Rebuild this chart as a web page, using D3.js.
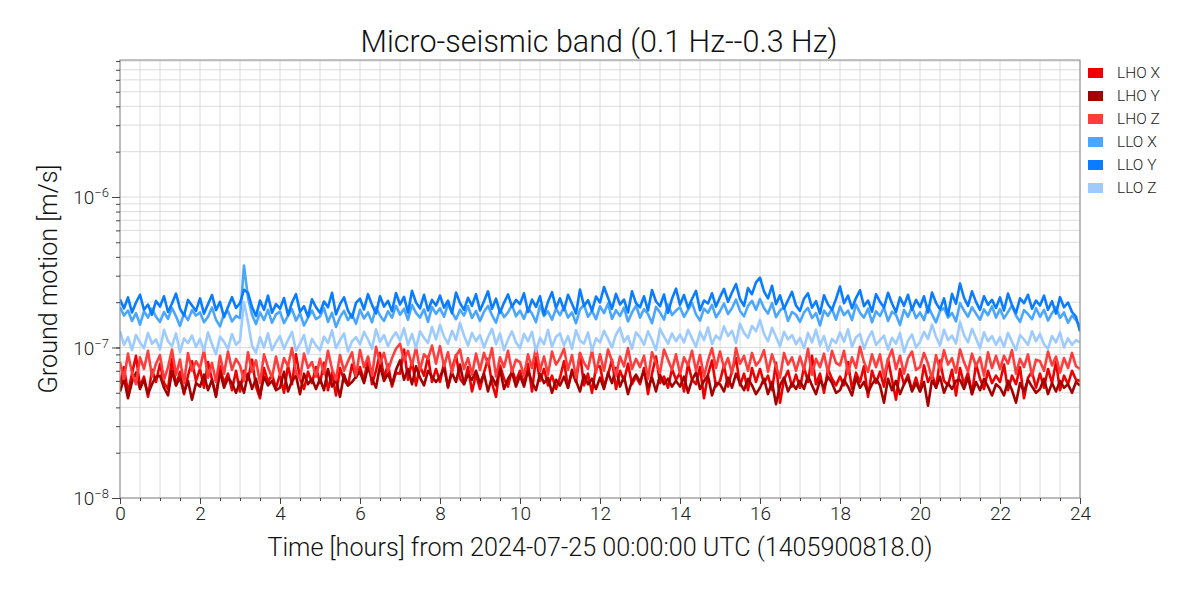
<!DOCTYPE html>
<html>
<head>
<meta charset="utf-8">
<script src="https://cdn.jsdelivr.net/npm/d3@7"></script>
<style>
  html, body { margin: 0; padding: 0; background: #fff; }
  svg { display: block; font-family: "Roboto Light", Roboto, "Open Sans", sans-serif; font-weight: 300; }
</style>
</head>
<body>
<svg id="chart" width="1200" height="600"></svg>
<script>
// ---- data (values in nm/s, i.e. units of 1e-9 m/s), sampled every 0.1 h ----
const seriesNames = ["LHO X", "LHO Y", "LHO Z", "LLO X", "LLO Y", "LLO Z"];
const seriesColors = ["#ee0000", "#a30000", "#ff3d3d", "#4ba6ff", "#0a7cff", "#9dcbff"];
const xTicks = [0, 2, 4, 6, 8, 10, 12, 14, 16, 18, 20, 22, 24];
const yTickExponents = [-8, -7, -6];
const sampleStepHours = 0.1;

const lhoX = [57,74,50,67,88,55,64,47,71,59, 78,58,53,84,56,69,49,65,81,60, 72,54,80,61,48,75,58,67,52,70,
  51,70,61,83,55,46,73,59,66,54, 66,50,76,57,90,62,53,69,58,74, 58,79,52,68,48,73,61,56,77,63,
  74,60,86,57,70,92,63,77,55,68, 67,97,61,81,56,75,65,87,59,72, 59,79,54,72,89,62,57,74,51,66,
  53,68,84,58,47,76,62,55,71,60, 70,57,78,51,86,60,72,56,65,53, 63,81,54,69,59,91,56,67,50,74,
  75,55,66,83,53,70,60,78,57,64, 57,73,49,67,87,58,64,54,72,61, 68,51,78,61,57,74,46,66,82,55,
  60,76,55,70,85,56,67,52,73,59, 72,58,65,52,79,43,61,70,55,66, 54,74,59,88,57,67,50,72,62,56,
  64,56,80,53,68,59,75,47,70,58, 69,55,84,61,45,72,57,66,52,63, 51,76,59,67,54,82,60,56,71,48,
  73,57,68,49,78,62,53,70,58,65, 59,77,52,65,57,74,46,63,69,54, 67,54,72,58,80,52,65,57,70,61, 60];
const lhoY = [51,62,46,59,68,53,61,49,57,64, 65,54,48,70,56,63,50,60,45,58, 55,66,52,61,47,69,54,63,58,50,
  59,50,67,53,62,48,64,56,60,52, 54,69,51,60,65,49,67,57,62,53, 62,52,72,55,61,47,66,56,59,64,
  69,58,74,62,54,76,60,67,57,71, 82,61,72,57,75,63,56,70,64,59, 64,73,55,68,59,77,57,66,61,70,
  58,67,51,64,56,72,53,62,68,55, 65,55,70,59,52,67,58,63,50,61, 56,64,54,71,60,51,66,57,62,53,
  63,53,68,58,73,55,64,49,60,66, 59,70,54,63,51,66,57,62,55,60, 55,64,50,61,68,53,60,65,48,58,
  57,51,63,54,67,58,52,62,56,49, 54,62,49,59,42,56,63,51,58,53, 60,53,65,56,49,61,54,64,58,50,
  52,61,55,48,63,54,59,50,57,62, 56,43,62,52,60,49,57,63,51,58, 51,59,41,61,54,64,50,58,53,60,
  61,53,63,49,59,52,62,55,48,57, 54,48,60,52,43,58,51,61,55,50, 53,62,49,58,51,60,54,57,50,59, 56];
const lhoZ = [80,62,91,68,57,86,72,95,64,78, 89,61,74,97,66,83,58,92,70,81, 73,96,63,79,59,88,67,94,71,84,
  76,60,93,69,82,58,90,74,63,87, 66,85,75,99,68,62,91,73,80,64, 84,67,95,72,61,89,70,81,93,65,
  96,74,87,65,101,79,92,70,85,98, 106,82,95,76,100,71,90,84,103,78, 102,75,93,68,88,97,72,85,66,91,
  71,92,77,99,64,86,74,95,69,83, 80,65,90,73,101,70,87,66,94,77, 85,98,71,89,63,92,79,72,96,68,
  90,70,97,81,65,87,75,99,72,84, 74,88,62,93,79,68,97,83,71,90, 67,86,76,95,70,89,64,82,99,73,
  94,73,85,67,99,78,88,70,92,76, 82,96,69,90,75,63,92,77,86,70, 87,71,98,66,84,74,91,68,95,79,
  76,95,67,86,73,101,80,69,90,74, 90,64,83,97,72,88,67,85,94,71, 74,92,78,62,89,71,96,77,85,68,
  97,80,69,91,75,86,65,93,73,88, 72,88,78,96,67,84,74,90,65,83, 81,70,94,76,87,68,85,73,92,75, 72];
const lloX = [185,163,176,150,169,142,174,158,181,160, 148,172,155,183,161,139,168,152,177,163, 171,147,160,184,153,138,167,174,149,162,
  157,350,214,165,143,171,152,178,146,166, 173,145,162,180,151,169,140,158,176,154, 161,183,148,170,137,159,175,152,166,144,
  178,156,171,147,185,163,150,174,158,189, 165,181,153,192,170,158,179,148,186,167, 182,160,194,171,154,178,163,188,157,175,
  150,173,189,164,146,180,159,171,192,161, 176,155,183,168,147,190,162,174,153,181, 164,186,158,171,145,179,192,160,175,154,
  188,169,196,155,177,162,184,149,171,190, 158,180,167,145,186,171,153,193,164,176, 185,160,178,198,166,151,181,170,192,159,
  174,196,167,183,208,175,161,189,204,178, 210,183,168,197,159,176,186,150,172,165, 148,171,183,157,169,140,176,162,181,153,
  187,164,176,152,193,170,158,181,147,174, 162,184,150,173,165,141,178,160,186,157, 171,152,189,166,147,175,183,158,170,149,
  197,176,160,185,168,153,179,164,188,158, 180,156,172,190,163,148,177,167,154,182, 160,178,151,169,185,157,171,146,163,152, 138];
const lloY = [208,182,215,171,199,224,178,193,165,204, 187,219,172,196,228,181,163,207,190,175, 212,168,194,223,177,201,159,186,216,183,
  197,242,231,186,162,205,178,221,170,194, 181,213,164,199,226,173,188,160,209,185, 170,202,185,231,166,194,215,176,158,198,
  211,179,226,192,168,219,187,204,174,230, 193,217,171,238,199,182,224,176,207,190, 221,184,205,169,232,197,178,214,189,226,
  176,203,236,181,211,170,198,225,186,207, 194,229,172,208,186,219,165,201,233,183, 212,177,224,195,168,243,189,206,175,218,
  199,252,214,181,227,193,208,171,236,197, 185,219,176,241,202,188,225,170,211,246, 192,223,183,210,238,177,205,196,229,187,
  216,245,201,232,264,210,189,248,226,271, 291,236,212,257,194,222,181,206,234,190, 175,211,229,184,203,168,222,193,178,210,
  254,197,221,182,213,240,188,205,173,226, 201,184,231,196,172,215,189,224,178,207, 186,219,171,232,198,179,212,163,227,195,
  266,214,189,236,201,178,219,192,207,183, 215,176,228,191,169,212,197,224,181,205, 190,221,178,203,168,216,185,199,172,160, 128];
const lloZ = [128,104,117,96,121,108,99,125,106,113, 97,131,110,102,124,93,115,107,120,101, 114,95,126,105,90,118,109,98,123,104,
  111,200,148,103,92,117,100,124,96,108, 119,98,112,127,95,106,121,91,114,103, 96,118,107,130,99,112,124,94,110,117,
  105,127,113,98,132,109,121,102,116,126, 111,134,104,123,99,128,116,107,137,113, 141,118,106,129,112,146,120,103,125,110,
  121,100,117,133,105,124,96,113,128,108, 99,123,110,127,94,116,105,131,101,118, 124,103,119,98,130,111,106,126,95,115,
  108,129,114,100,122,135,109,119,98,126, 117,104,128,112,96,133,118,106,124,110, 122,108,131,115,101,127,112,136,105,120,
  113,138,119,129,107,144,125,116,139,128, 152,123,110,135,118,102,127,113,121,105, 116,99,125,108,131,103,119,95,114,107,
  126,109,132,101,117,123,98,115,128,104, 112,120,97,116,106,125,93,111,122,100, 109,127,114,142,118,103,131,112,120,106,
  148,121,108,133,115,99,126,110,119,104, 117,101,125,109,96,121,113,104,128,110, 123,105,98,119,108,126,100,115,104,112, 108];
const seriesValues = [lhoX, lhoY, lhoZ, lloX, lloY, lloZ];

// ---- layout ----
const svg = d3.select("#chart");
const M = { left: 120, right: 1080, top: 60, bottom: 498 };
const x = d3.scaleLinear().domain([0, 24]).range([M.left, M.right]);
const y = d3.scaleLog().domain([1e-8, Math.pow(10, -5.09)]).range([M.bottom, M.top]);

// grid
const grid = svg.append("g");
const xMinor = d3.range(0, 24.001, 0.5);
grid.selectAll("line.gx").data(xMinor).join("line")
  .attr("x1", d => x(d)).attr("x2", d => x(d))
  .attr("y1", M.top).attr("y2", M.bottom)
  .attr("stroke", "#d8d8d8").attr("stroke-width", 0.9);
const yMinor = [];
for (let e = -8; e <= -6; e++) for (let m = 1; m <= 9; m++) {
  const v = m * Math.pow(10, e);
  if (v >= y.domain()[0] && v <= y.domain()[1]) yMinor.push(v);
}
grid.selectAll("line.gy").data(yMinor).join("line")
  .attr("x1", M.left).attr("x2", M.right)
  .attr("y1", d => y(d)).attr("y2", d => y(d))
  .attr("stroke", "#d8d8d8").attr("stroke-width", 0.9);

// lines
const line = d3.line()
  .x((d, i) => x(i * sampleStepHours))
  .y(d => y(d * 1e-9));
svg.append("clipPath").attr("id", "clip").append("rect")
  .attr("x", M.left).attr("y", M.top).attr("width", M.right - M.left).attr("height", M.bottom - M.top);
const lines = svg.append("g").attr("clip-path", "url(#clip)");
seriesValues.forEach((vals, k) => {
  lines.append("path").datum(vals)
    .attr("d", line)
    .attr("fill", "none")
    .attr("stroke", seriesColors[k])
    .attr("stroke-width", 2.6)
    .attr("stroke-linejoin", "round");
});

// frame
svg.append("rect").attr("x", M.left).attr("y", M.top)
  .attr("width", M.right - M.left).attr("height", M.bottom - M.top)
  .attr("fill", "none").attr("stroke", "#888").attr("stroke-width", 1);

const tickFont = sel => sel.attr("font-size", 19).attr("fill", "#222")
  .attr("font-family", "'Roboto Light', Roboto, sans-serif").attr("font-weight", 300);

// x axis
const xAxis = svg.append("g").attr("transform", `translate(0,${M.bottom})`);
xAxis.call(d3.axisBottom(x).tickValues(xMinor).tickSize(3).tickFormat(""))
  .call(g => g.select(".domain").remove())
  .selectAll("line").attr("stroke", "#444");
const xMajor = svg.append("g").attr("transform", `translate(0,${M.bottom})`);
xMajor.call(d3.axisBottom(x).tickValues(xTicks).tickSize(6).tickPadding(3).tickFormat(d3.format("d")))
  .call(g => g.select(".domain").remove());
xMajor.selectAll("line").attr("stroke", "#444");
xMajor.selectAll("text").call(tickFont);

// y axis
const yAxisMinor = svg.append("g").attr("transform", `translate(${M.left},0)`);
yAxisMinor.call(d3.axisLeft(y).tickValues(yMinor).tickSize(4).tickFormat(""))
  .call(g => g.select(".domain").remove())
  .selectAll("line").attr("stroke", "#444");
const yMajorVals = yTickExponents.map(e => Math.pow(10, e));
const yAxisMajor = svg.append("g").attr("transform", `translate(${M.left},0)`);
yAxisMajor.call(d3.axisLeft(y).tickValues(yMajorVals).tickSize(8).tickFormat(""))
  .call(g => g.select(".domain").remove())
  .selectAll("line").attr("stroke", "#444");
yAxisMajor.selectAll(".tick").each(function(d) {
  const e = Math.round(Math.log10(d));
  const t = d3.select(this).append("text")
    .attr("x", -11).attr("dy", "0.36em")
    .attr("text-anchor", "end").call(tickFont);
  t.append("tspan").text("10");
  t.append("tspan").attr("dy", "-0.55em").attr("font-size", 13).text("\u2212" + Math.abs(e));
});

// titles
svg.append("text").attr("x", 599).attr("y", 52).attr("text-anchor", "middle")
  .attr("font-size", 30.5).attr("fill", "#111").text("Micro-seismic band (0.1 Hz--0.3 Hz)");
svg.append("text").attr("x", 600).attr("y", 556).attr("text-anchor", "middle")
  .attr("font-size", 25.2).attr("fill", "#111").text("Time [hours] from 2024-07-25 00:00:00 UTC (1405900818.0)");
svg.append("text").attr("transform", "translate(57,279) rotate(-90)").attr("text-anchor", "middle")
  .attr("font-size", 25.2).attr("fill", "#111").text("Ground motion [m/s]");

// legend
const legend = svg.append("g").attr("transform", "translate(1088,73)");
seriesNames.forEach((name, k) => {
  const g = legend.append("g").attr("transform", `translate(0,${k * 23})`);
  g.append("rect").attr("x", 0).attr("y", -5).attr("width", 15).attr("height", 10).attr("fill", seriesColors[k]);
  g.append("text").attr("x", 29).attr("y", 0).attr("dy", "0.35em")
    .attr("font-size", 15.5).attr("fill", "#222").text(name);
});
</script>
</body>
</html>
